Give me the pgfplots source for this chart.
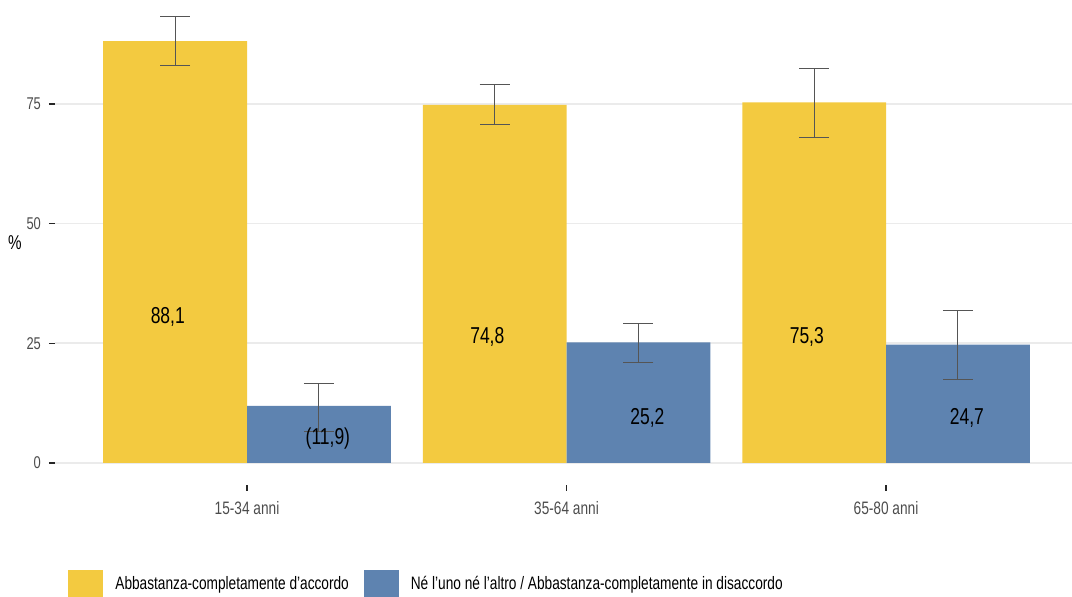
\documentclass[border=0pt]{standalone}
\usepackage{fontspec}
\setmainfont{Liberation Sans}[FakeStretch=0.76]
\usepackage{pgfplots}
\usepackage{pgfplotstable}
\pgfplotsset{compat=1.18}
\definecolor{cyel}{HTML}{F3CA40}
\definecolor{cblu}{HTML}{5E83B0}
\definecolor{cgrid}{HTML}{EBEBEB}
\definecolor{cerr}{HTML}{555555}

% bar centres: category position -/+ 0.225
\pgfplotstableread{
x y ep em
0.775 88.1 5.07 5.0
1.775 74.8 4.16 4.2
2.775 75.3 7.1 7.3
}\yellowdata
\pgfplotstableread{
x y ep em
1.225 11.9 4.75 5.35
2.225 25.2 4.0 4.3
3.225 24.7 7.05 7.35
}\bluedata
\pgfplotstableread{
x y label
0.752 30.6 88,1
1.752 26.4 74,8
2.752 26.4 75,3
1.253 5.0 (11,9)
2.253 9.5 25,2
3.253 9.5 24,7
}\labeldata

\begin{document}
\begin{tikzpicture}
\path[use as bounding box] (-27.5pt,-56pt) rectangle (508.5pt,242.5pt);
\begin{axis}[
  at={(0,0)}, anchor=south west,
  scale only axis,
  width=508.5pt, height=242.5pt,
  xmin=0.399, xmax=3.582,
  ymin=-4.6, ymax=96.7,
  axis lines=left,
  axis line style={draw=none},
  ytick={0,25,50,75},
  xtick={1,2,3},
  xticklabels={15-34 anni,35-64 anni,65-80 anni},
  tick align=outside,
  major tick length=3pt,
  tick style={black!85, line width=0.7pt},
  ymajorgrids,
  grid style={cgrid, line width=0.8pt},
  /pgf/number format/assume math mode=true,
  yticklabel style={font=\fontsize{8.5}{10}\selectfont, text=black!70, xshift=-0.5pt},
  xticklabel style={font=\fontsize{9}{10}\selectfont, text=black!70, yshift=-1.5pt},
  ylabel={\%},
  ylabel style={rotate=-90, at={(rel axis cs:0,0.499)}, anchor=center, xshift=-20pt, font=\fontsize{10}{12}\selectfont},
  legend style={at={(rel axis cs:0,0)}, anchor=north west, xshift=6.5pt, yshift=-42.5pt,
    draw=none, fill=none, inner sep=0pt, legend columns=2,
    font=\fontsize{9}{11}\selectfont,
    /tikz/every even column/.append style={column sep=7.5pt},
    nodes={inner sep=0pt, text depth=0pt}},
  legend cell align=left,
  legend image code/.code={\fill[#1] (0pt,-11.3pt) rectangle (17.5pt,6.2pt);},
  error bars/error bar style={cerr, line width=0.5pt},
  error bars/error mark options={cerr, line width=0.5pt, rotate=90, mark size=7.5pt},
]
\addplot[ybar, bar width=0.45, bar shift=0pt, fill=cyel, draw=none,
  error bars/.cd, y dir=both, y explicit]
  table[x=x, y=y, y error plus=ep, y error minus=em] {\yellowdata};
\addlegendentry{\hspace{6pt}Abbastanza-completamente d'accordo}
\addplot[ybar, bar width=0.45, bar shift=0pt, fill=cblu, draw=none,
  error bars/.cd, y dir=both, y explicit]
  table[x=x, y=y, y error plus=ep, y error minus=em] {\bluedata};
\addlegendentry{\hspace{6pt}Né l'uno né l'altro / Abbastanza-completamente in disaccordo}
\addplot[draw=none, mark=none, forget plot, nodes near coords, point meta=explicit symbolic,
  nodes near coords style={anchor=center, font=\fontsize{11.5}{13}\selectfont, text=black}]
  table[x=x, y=y, meta=label] {\labeldata};
\end{axis}
\end{tikzpicture}
\end{document}
